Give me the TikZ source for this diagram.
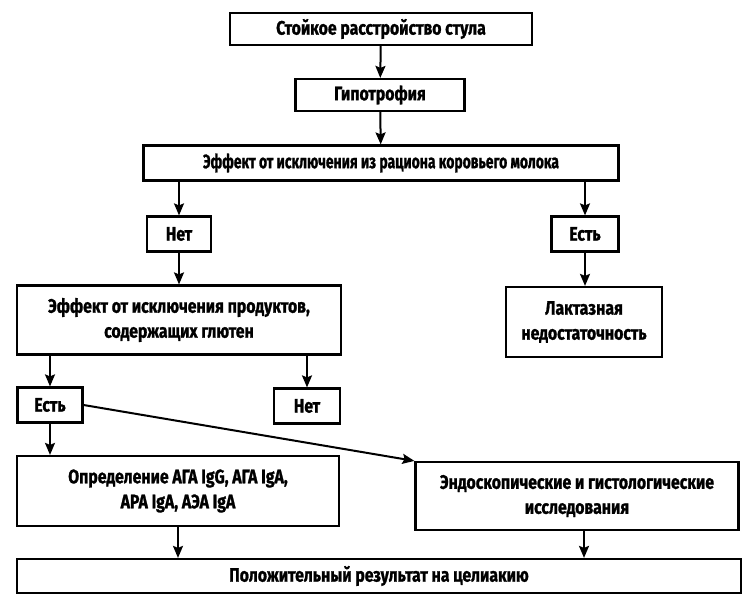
\documentclass[tikz,border=0pt]{standalone}
\usepackage{fontspec}
\setmainfont{Fira Sans}[FakeStretch=0.81, BoldFeatures={FakeBold=1.2}]
\usetikzlibrary{arrows.meta}
\usetikzlibrary{positioning}

\begin{document}
\begin{tikzpicture}[x=1pt, y=-1pt, align=center, font=\bfseries\fontsize{19.5}{25}\selectfont]

\tikzstyle{stepbox} = [rectangle, draw=black, line width=2.2pt, inner sep=0pt, text centered]
\tikzstyle{arrow} = [line width=2pt,->,>={Stealth[length=12pt,width=10pt,inset=2pt]}]

\useasboundingbox (0,0) rectangle (742,599);

\node (stool) [stepbox, minimum width=302, minimum height=32] at (381,29) {Стойкое расстройство стула};
\node (hypo) [stepbox, minimum width=169, minimum height=32] at (380,95) {Гипотрофия};
\node (milk) [stepbox, minimum width=475, minimum height=35] at (381,163) {\scalebox{0.88}[1]{Эффект от исключения из рациона коровьего молока}};
\node (nomilk) [stepbox, minimum width=64, minimum height=35] at (179,234) {Нет};
\node (yesmilk) [stepbox, minimum width=67, minimum height=35] at (585,234) {Есть};
\node (gluten) [stepbox, minimum width=324, minimum height=69] at (179,320) {Эффект от исключения продуктов,\\содержащих глютен};
\node (lactase) [stepbox, minimum width=156, minimum height=70] at (584,322) {Лактазная\\недостаточность};
\node (yesgluten) [stepbox, minimum width=65, minimum height=35] at (50,405) {Есть};
\node (nogluten) [stepbox, minimum width=66, minimum height=35] at (307,406) {Нет};
\node (serology) [stepbox, minimum width=322, minimum height=70] at (178,491) {Определение АГА IgG, АГА IgA,\\АРА IgA, АЭА IgA};
\node (endoscopy) [stepbox, minimum width=323, minimum height=68] at (577,496) {Эндоскопические и гистологические\\исследования};
\node (result) [stepbox, minimum width=724, minimum height=34] at (379,576) {Положительный результат на целиакию};

\draw [arrow] (stool) -- (hypo);
\draw [arrow] (hypo) -- (milk);
\draw [arrow] (milk.south -| nomilk) -- (nomilk);
\draw [arrow] (milk.south -| yesmilk) -- (yesmilk);
\draw [arrow] (nomilk) -- (nomilk |- gluten.north);
\draw [arrow] (yesmilk) -- (yesmilk |- lactase.north);
\draw [arrow] (gluten.south -| yesgluten) -- (yesgluten);
\draw [arrow] (gluten.south -| nogluten) -- (nogluten);
\draw [arrow] (yesgluten) -- (yesgluten |- serology.north);
\draw [arrow] (yesgluten.east) -- (endoscopy.north west);
\draw [arrow] (serology) -- (serology |- result.north);
\draw [arrow] ([xshift=7pt]endoscopy.south) -- ([xshift=7pt]endoscopy.south |- result.north);
\end{tikzpicture}
\end{document}
